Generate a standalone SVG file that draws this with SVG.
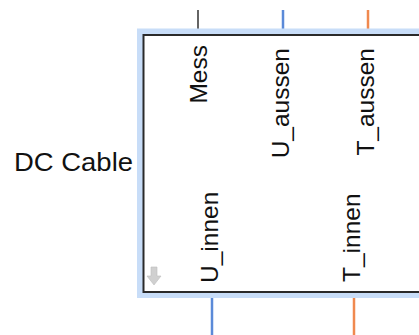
<svg xmlns="http://www.w3.org/2000/svg" width="419" height="335" viewBox="0 0 419 335">
<style>
text{font-family:"Liberation Sans",Arial,sans-serif;font-size:26px;fill:#111}
.lbl{font-size:24.5px}
</style>
<rect width="419" height="335" fill="#fff"/>
<g id="connectors">
<line x1="198" y1="10" x2="198" y2="35" stroke="#111" stroke-width="1.3"/>
<line x1="283" y1="10" x2="283" y2="35" stroke="#5b8ad8" stroke-width="2.5"/>
<line x1="368" y1="10" x2="368" y2="35" stroke="#f0894f" stroke-width="2.5"/>
<line x1="212" y1="292" x2="212" y2="335" stroke="#5b8ad8" stroke-width="2.5"/>
<line x1="354" y1="292" x2="354" y2="335" stroke="#f0894f" stroke-width="2.5"/>
</g>
<g id="dc-cable">
<rect x="140" y="31.5" width="290" height="263.5" fill="none" stroke="#c8ddf8" stroke-width="6"/>
<rect x="143.5" y="35" width="290" height="257" fill="#fff" stroke="#2a2a2a" stroke-width="2"/>
<text x="133" y="171" text-anchor="end" textLength="119" lengthAdjust="spacingAndGlyphs">DC Cable</text>
<text class="lbl" transform="translate(207,45) rotate(-90)" text-anchor="end">Mess</text>
<text class="lbl" transform="translate(289,48) rotate(-90)" text-anchor="end">U_aussen</text>
<text class="lbl" transform="translate(374,48) rotate(-90)" text-anchor="end">T_aussen</text>
<text class="lbl" transform="translate(218,283) rotate(-90)">U_innen</text>
<text class="lbl" transform="translate(360,282) rotate(-90)">T_innen</text>
<path d="M151 267h6v9h4l-7 9-7-9h4z" fill="#d0d0d0" stroke="#bdbdbd" stroke-width="0.6"/>
</g>
</svg>
